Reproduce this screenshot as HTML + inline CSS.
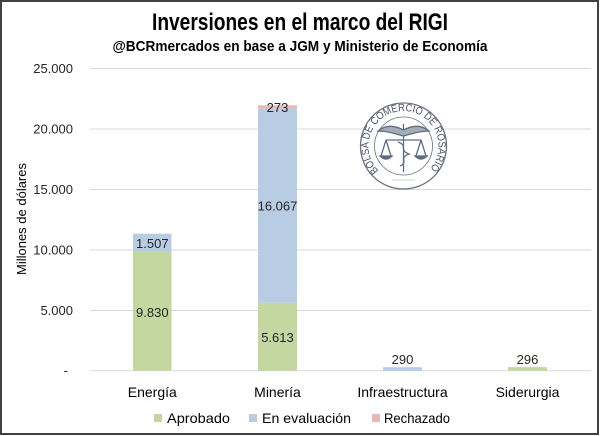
<!DOCTYPE html>
<html><head><meta charset="utf-8">
<style>
html,body{margin:0;padding:0;background:#fff;}
svg{display:block;}
text{font-family:"Liberation Sans",sans-serif;}
</style></head>
<body>
<svg width="600" height="436" viewBox="0 0 600 436" xmlns="http://www.w3.org/2000/svg">
<rect x="0" y="0" width="600" height="436" fill="#fff"/>
<rect x="1" y="1" width="597" height="433" fill="none" stroke="#404040" stroke-width="2"/>

<!-- Title -->
<text x="300" y="30" font-size="24" font-weight="bold" fill="#000" text-anchor="middle" textLength="296" lengthAdjust="spacingAndGlyphs">Inversiones en el marco del RIGI</text>
<text x="300" y="51" font-size="15" font-weight="bold" fill="#000" text-anchor="middle" textLength="375" lengthAdjust="spacingAndGlyphs">@BCRmercados en base a JGM y Ministerio de Economía</text>

<!-- gridlines -->
<g stroke="#d9d9d9" stroke-width="1">
<line x1="90" y1="68.5" x2="591" y2="68.5"/>
<line x1="90" y1="129" x2="591" y2="129"/>
<line x1="90" y1="189.5" x2="591" y2="189.5"/>
<line x1="90" y1="250" x2="591" y2="250"/>
<line x1="90" y1="310.5" x2="591" y2="310.5"/>
<line x1="90" y1="370.7" x2="591" y2="370.7"/>
</g>

<!-- logo -->
<circle cx="403.5" cy="146" r="43" fill="#fff" stroke="#6b7280" stroke-width="1.3"/>
<circle cx="403.5" cy="146" r="29" fill="none" stroke="#6b7280" stroke-width="0.8"/>
<defs>
<path id="arc" d="M378.75,170.75 A35,35 0 1,1 428.25,170.75"/>
</defs>
<text font-size="10.5" fill="#4b5260"><textPath href="#arc" textLength="162" lengthAdjust="spacingAndGlyphs">BOLSA DE COMERCIO DE ROSARIO</textPath></text>
<g stroke="#5f6d80" fill="none" stroke-width="1.3">
<path d="M403.5,124 L403.5,172"/>
<path d="M403.5,130 C392,124 384,126 378,131 C388,131 396,134 403.5,136" fill="#a3adba"/>
<path d="M403.5,130 C415,124 423,126 429,131 C419,131 411,134 403.5,136" fill="#a3adba"/>
<path d="M386,140 L421,140"/>
<path d="M386,140 L381,156 M386,140 L391,156 M421,140 L416,156 M421,140 L426,156"/>
<path d="M380,156 Q386,162 392,156 Z M415,156 Q421,162 427,156 Z" fill="#5f6d80"/>
<path d="M398,142 C409,146 398,150 409,154 C398,158 409,162 400,166"/>
</g>
<path d="M392,180 L415,180" stroke="#9aa" stroke-width="0.6"/>

<!-- Bars -->
<rect x="133" y="251.9" width="38.5" height="118.8" fill="#c4d7a0"/>
<rect x="133" y="233.7" width="38.5" height="18.2" fill="#b8cce4"/>
<rect x="258" y="302.8" width="39" height="67.9" fill="#c4d7a0"/>
<rect x="258" y="108.6" width="39" height="194.2" fill="#b8cce4"/>
<rect x="258" y="105.3" width="39" height="3.3" fill="#e6b8b7"/>
<rect x="383" y="367.2" width="39" height="3.5" fill="#b8cce4"/>
<rect x="508" y="367.1" width="39" height="3.6" fill="#c4d7a0"/>

<!-- Data labels -->
<g font-size="13" fill="#262626" text-anchor="middle">
<text x="152.3" y="317">9.830</text>
<text x="152.3" y="248">1.507</text>
<text x="277.5" y="342">5.613</text>
<text x="277.5" y="210.5">16.067</text>
<text x="277.5" y="112">273</text>
<text x="402.5" y="364">290</text>
<text x="527.5" y="364">296</text>
</g>

<!-- Y axis labels -->
<g font-size="13" fill="#262626" text-anchor="end">
<text x="73" y="73">25.000</text>
<text x="73" y="133.5">20.000</text>
<text x="73" y="194">15.000</text>
<text x="73" y="254.5">10.000</text>
<text x="73" y="315">5.000</text>
<text x="68" y="375">-</text>
</g>
<text transform="translate(26,219) rotate(-90)" font-size="13" fill="#000" text-anchor="middle" textLength="112" lengthAdjust="spacingAndGlyphs">Millones de dólares</text>

<!-- X labels -->
<g font-size="14" fill="#000" text-anchor="middle">
<text x="152.3" y="397">Energía</text>
<text x="277.5" y="397">Minería</text>
<text x="402.5" y="397">Infraestructura</text>
<text x="527.5" y="397">Siderurgia</text>
</g>

<!-- Legend -->
<rect x="154" y="414" width="8" height="8" fill="#c4d7a0"/>
<text x="167" y="423" font-size="14" fill="#000" textLength="63" lengthAdjust="spacingAndGlyphs">Aprobado</text>
<rect x="249" y="414" width="8" height="8" fill="#b8cce4"/>
<text x="262" y="423" font-size="14" fill="#000" textLength="89" lengthAdjust="spacingAndGlyphs">En evaluación</text>
<rect x="372" y="414" width="8" height="8" fill="#e6b8b7"/>
<text x="384" y="423" font-size="14" fill="#000" textLength="66" lengthAdjust="spacingAndGlyphs">Rechazado</text>
</svg>
</body></html>
